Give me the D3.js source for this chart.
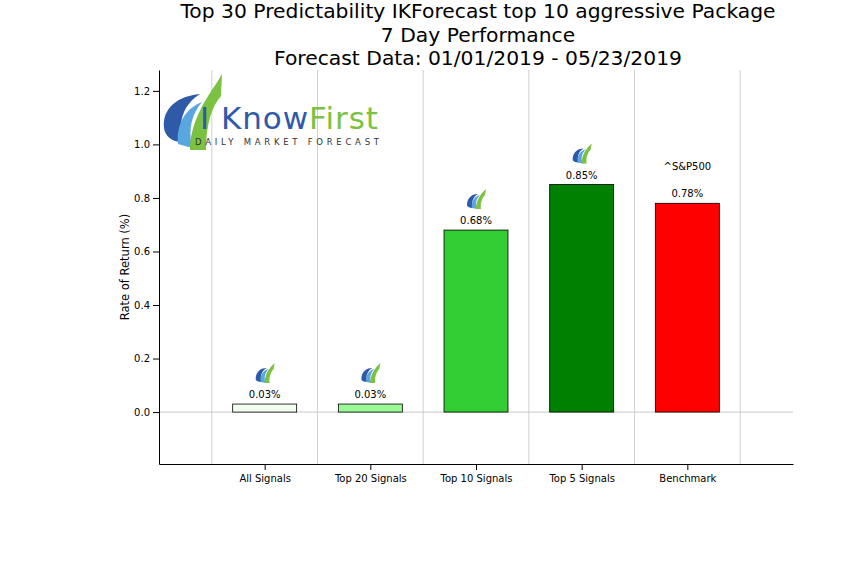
<!DOCTYPE html>
<html><head><meta charset="utf-8">
<script src="https://cdn.jsdelivr.net/npm/d3@7"></script>
<style>body{margin:0;background:#fff}text{font-family:"DejaVu Sans",sans-serif}</style>
</head><body>
<svg id="c" width="862" height="580"></svg>
<script>
// chart values
const categories = ["All Signals", "Top 20 Signals", "Top 10 Signals", "Top 5 Signals", "Benchmark"];
const returns = [0.03, 0.03, 0.68, 0.85, 0.78];
const barColors = ["#f0fff0", "#98fb98", "#32cd32", "#008000", "#ff0000"];
const yTicks = [0.0, 0.2, 0.4, 0.6, 0.8, 1.0, 1.2];
const titleLines = ["Top 30 Predictability IKForecast top 10 aggressive Package", "7 Day Performance", "Forecast Data: 01/01/2019 - 05/23/2019"];

const svg = d3.select("#c");
const L = 159, R = 793, T = 70, B = 464;
const x = d3.scaleLinear().domain([-1, 5]).range([L, R]);
const y = d3.scaleLinear().domain([-0.194, 1.278]).range([B, T]);
const bw = 64;

titleLines.forEach((t, i) => svg.append("text").attr("x", 478).attr("y", 18 + i * 23.5)
  .attr("text-anchor", "middle").attr("font-size", 20.3).text(t));

// vertical grid
for (let i = 0; i <= 5; i++) {
  svg.append("line").attr("x1", x(i - 0.5)).attr("x2", x(i - 0.5)).attr("y1", T).attr("y2", B)
    .attr("stroke", "#d0d0d0").attr("stroke-width", 1);
}
svg.append("line").attr("x1", L).attr("x2", R).attr("y1", y(0)).attr("y2", y(0))
  .attr("stroke", "#c8c8c8");

// bars
categories.forEach((c, i) => {
  svg.append("rect").attr("x", x(i) - bw / 2).attr("width", bw)
    .attr("y", y(returns[i])).attr("height", y(0) - y(returns[i]))
    .attr("fill", barColors[i]).attr("stroke", "#000").attr("stroke-width", 0.8);
  svg.append("text").attr("x", x(i)).attr("y", y(returns[i]) - 6).attr("text-anchor", "middle")
    .attr("font-size", 10).text(returns[i].toFixed(2) + "%");
  if (i < 4) icon(x(i), y(returns[i]) - 29);
});
svg.append("text").attr("x", x(4)).attr("y", y(returns[4]) - 33).attr("text-anchor", "middle")
  .attr("font-size", 10).text("^S&P500");

function icon(cx, cy) {
  const g = svg.append("g").attr("transform", `translate(${cx},${cy})`);
  g.append("path").attr("d", "M-9,4 C-9,-4 -3,-7 2,-7 C-3,-4 -5,1 -3,7 C-6,7 -9,6 -9,4Z").attr("fill", "#2f5aa8");
  g.append("path").attr("d", "M-4,7 C-5,0 -1,-5 4,-6 C0,-2 -1,3 1,8Z").attr("fill", "#5aa6e0");
  g.append("path").attr("d", "M0,8 C0,0 4,-6 8,-10 L10,-12 L9,-6 C6,-3 4,3 5,8Z").attr("fill", "#7cc242");
}

// axes
svg.append("g").attr("transform", `translate(${L},0)`)
  .call(d3.axisLeft(y).tickValues(yTicks).tickFormat(d3.format(".1f")).tickSizeOuter(0))
  .call(g => g.selectAll("text").attr("font-size", 10));
svg.append("g").attr("transform", `translate(0,${B})`)
  .call(d3.axisBottom(x).tickValues(d3.range(5)).tickFormat(i => categories[i]).tickSizeOuter(0))
  .call(g => g.selectAll("text").attr("font-size", 10).attr("dy", "0.9em"));
svg.selectAll(".domain").attr("stroke", "#000");
svg.append("text").attr("transform", `translate(129,${(T + B) / 2}) rotate(-90)`)
  .attr("text-anchor", "middle").attr("font-size", 11.5).text("Rate of Return (%)");

// logo
const lg = svg.append("g").attr("transform", "translate(190,118)");
lg.append("path").attr("d", "M-26,10 C-28,-10 -12,-22 10,-24 C-6,-14 -12,2 -8,24 C-18,24 -25,18 -26,10Z").attr("fill", "#2f5aa8");
lg.append("path").attr("d", "M-12,26 C-14,6 -4,-10 12,-16 C2,-4 -2,10 2,30Z").attr("fill", "#5aa6e0");
lg.append("path").attr("d", "M0,32 C0,8 12,-14 26,-34 L32,-44 L31,-22 C22,-12 16,6 16,32Z").attr("fill", "#7cc242");
lg.append("text").attr("x", 10).attr("y", 11).attr("font-size", 31).attr("textLength", 178)
  .attr("font-family", "'Liberation Sans Narrow','DejaVu Sans Condensed',sans-serif")
  .attr("fill", "#2f5aa8").text("I Know").append("tspan").attr("fill", "#7cc242").text("First");
lg.append("text").attr("x", 5).attr("y", 27).attr("font-size", 8.5).attr("textLength", 184)
  .attr("fill", "#333").text("DAILY MARKET FORECAST");
</script>
</body></html>
